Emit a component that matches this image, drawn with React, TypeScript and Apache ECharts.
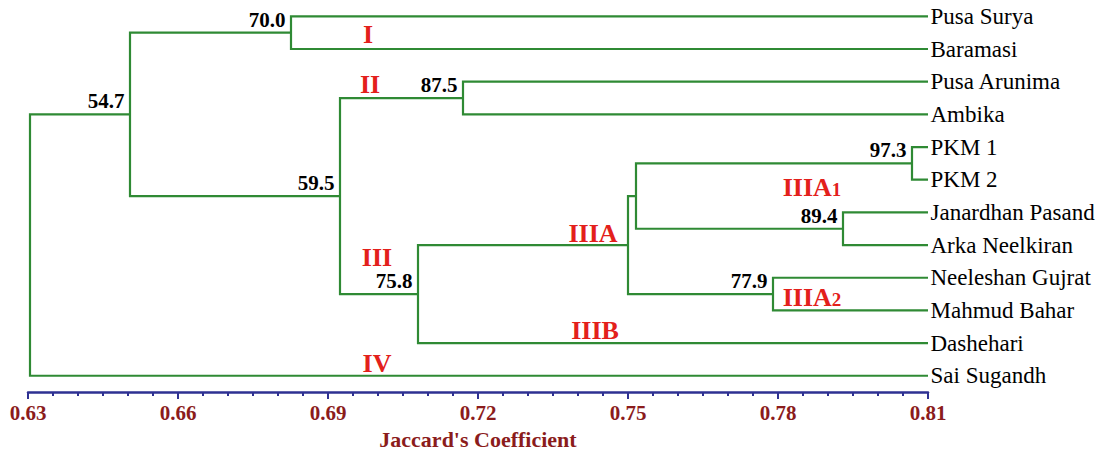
import React, { useEffect, useRef } from "react";
import * as echarts from "echarts";

// Leaves (top to bottom)
const leaves = [
  "Pusa Surya",
  "Baramasi",
  "Pusa Arunima",
  "Ambika",
  "PKM 1",
  "PKM 2",
  "Janardhan Pasand",
  "Arka Neelkiran",
  "Neeleshan Gujrat",
  "Mahmud Bahar",
  "Dashehari",
  "Sai Sugandh",
];
const leafCoef = 0.81;

// Merges (bottom-up)
const mergeIds = ["n973", "n894", "nIIIA1", "n779", "nIIIA", "n758", "n875", "n595", "n70", "n547", "root"];
const mergeLeft = ["PKM 1", "Janardhan Pasand", "n973", "Neeleshan Gujrat", "nIIIA1", "nIIIA", "Pusa Arunima", "n875", "Pusa Surya", "n70", "n547"];
const mergeRight = ["PKM 2", "Arka Neelkiran", "n894", "Mahmud Bahar", "n779", "Dashehari", "Ambika", "n758", "Baramasi", "n595", "Sai Sugandh"];
const mergeCoef = [0.8068, 0.793, 0.7516, 0.779, 0.75, 0.708, 0.717, 0.6924, 0.6826, 0.6504, 0.6304];
const mergeLabel = ["97.3", "89.4", "", "77.9", "", "75.8", "87.5", "59.5", "70.0", "54.7", ""];

// Cluster annotations
const clusterNames = ["I", "II", "III", "IIIA", "IIIB", "IIIA{s|1}", "IIIA{s|2}", "IV"];
const clusterCoef = [0.698, 0.6984, 0.6998, 0.743, 0.7434, 0.7868, 0.7868, 0.6998];
const clusterRow = [0.55, 2.1, 7.37, 6.65, 9.61, 5.25, 8.6, 10.63];

const AXIS_MIN = 0.63;
const AXIS_MAX = 0.81;
const AXIS_STEP = 0.03;

const SERIF = '"Liberation Serif", "Times New Roman", serif';

export default function App() {
  const ref = useRef<HTMLDivElement>(null);

  useEffect(() => {
    document.body.style.margin = "0";
    if (!ref.current) return;
    const chart = echarts.init(ref.current, undefined, { renderer: "svg" });

    const pos: Record<string, [number, number]> = {};
    leaves.forEach((l, i) => {
      pos[l] = [leafCoef, i];
    });
    const links: { coords: [number, number][] }[] = [];
    const nodeLabels: any[] = [];
    mergeIds.forEach((id, i) => {
      const a = pos[mergeLeft[i]];
      const b = pos[mergeRight[i]];
      const x = mergeCoef[i];
      const y = (a[1] + b[1]) / 2;
      pos[id] = [x, y];
      links.push({
        coords: [
          [a[0], a[1]],
          [x, a[1]],
          [x, b[1]],
          [b[0], b[1]],
        ],
      });
      if (mergeLabel[i]) nodeLabels.push({ value: [x, y], name: mergeLabel[i] });
    });

    const hiddenItem = { color: "rgba(0,0,0,0)", opacity: 1 };

    const option: any = {
      animation: false,
      backgroundColor: "#ffffff",
      grid: { left: 28, width: 900, top: 0, height: 401, containLabel: false },
      xAxis: {
        type: "value",
        position: "bottom",
        min: AXIS_MIN,
        max: AXIS_MAX,
        interval: AXIS_STEP,
        name: "Jaccard's Coefficient",
        nameLocation: "middle",
        nameGap: 28,
        nameTextStyle: {
          color: "#8b1c1c",
          fontFamily: SERIF,
          fontWeight: "bold",
          fontSize: 22,
        },
        axisLine: { show: true, onZero: false, lineStyle: { color: "#2e3192", width: 2.5 } },
        axisTick: { show: true, length: 7, lineStyle: { color: "#2e3192", width: 2 } },
        minorTick: { show: true, splitNumber: 6, length: 4, lineStyle: { color: "#2e3192", width: 2 } },
        splitLine: { show: false },
        minorSplitLine: { show: false },
        axisLabel: {
          color: "#8b1c1c",
          fontFamily: SERIF,
          fontWeight: "bold",
          fontSize: 21,
          margin: 10,
          formatter: (v: number) => v.toFixed(2),
        },
      },
      yAxis: {
        type: "value",
        inverse: true,
        min: -0.5,
        max: 11.5,
        show: false,
      },
      series: [
        {
          type: "lines",
          coordinateSystem: "cartesian2d",
          polyline: true,
          silent: true,
          lineStyle: { color: "#2f8a34", width: 2.2, opacity: 1 },
          data: links,
        },
        {
          type: "scatter",
          symbolSize: 1,
          silent: true,
          itemStyle: hiddenItem,
          data: leaves.map((l, i) => ({ value: [leafCoef, i], name: l })),
          label: {
            show: true,
            position: "right",
            distance: 2,
            formatter: (p: any) => p.name,
            color: "#000000",
            opacity: 1,
            fontFamily: SERIF,
            fontSize: 23,
          },
        },
        {
          type: "scatter",
          symbolSize: 1,
          silent: true,
          itemStyle: hiddenItem,
          data: nodeLabels,
          label: {
            show: true,
            position: [-5, -2],
            align: "right",
            verticalAlign: "bottom",
            formatter: (p: any) => p.name,
            color: "#000000",
            opacity: 1,
            fontFamily: SERIF,
            fontWeight: "bold",
            fontSize: 21,
          },
        },
        {
          type: "scatter",
          symbolSize: 1,
          silent: true,
          itemStyle: hiddenItem,
          data: clusterNames.map((n, i) => ({ value: [clusterCoef[i], clusterRow[i]], name: n })),
          label: {
            show: true,
            position: "inside",
            formatter: (p: any) => p.name,
            color: "#e3201b",
            opacity: 1,
            fontFamily: SERIF,
            fontWeight: "bold",
            fontSize: 26,
            rich: {
              s: {
                color: "#e3201b",
                fontFamily: SERIF,
                fontWeight: "bold",
                fontSize: 19,
                padding: [4, 0, 0, 0],
              },
            },
          },
        },
      ],
    };
    chart.setOption(option);
    return () => chart.dispose();
  }, []);

  return <div ref={ref} style={{ width: 1103, height: 455 }} />;
}
